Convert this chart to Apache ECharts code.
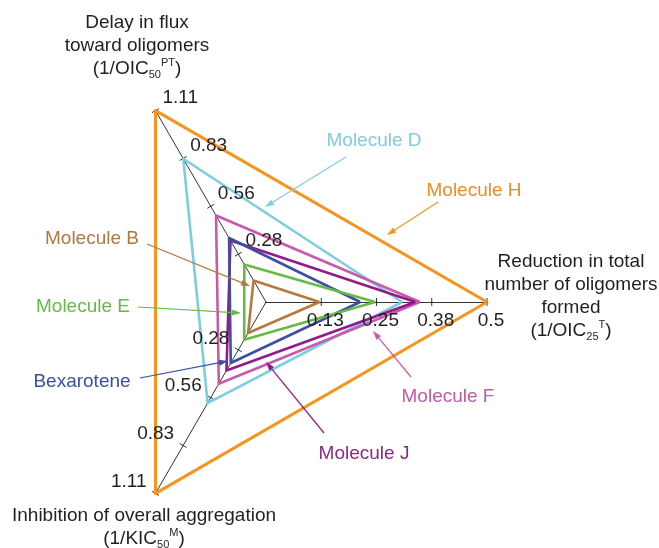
<!DOCTYPE html>
<html><head><meta charset="utf-8">
<script src="https://cdn.jsdelivr.net/npm/echarts@6/dist/echarts.min.js"></script>
<style>html,body{margin:0;padding:0;background:#fff}#c{width:659px;height:548px}</style>
</head><body><div id="c"></div>
<script>
// ---- data ----
const axisNames = ['Reduction in total number of oligomers formed (1/OIC25T)', 'Delay in flux toward oligomers (1/OIC50PT)', 'Inhibition of overall aggregation (1/KIC50M)'];
const axisMax = [0.5, 1.11, 1.11];
const tickLabelsRight = ['0.13', '0.25', '0.38', '0.5'];
const tickLabelsTop = ['0.28', '0.56', '0.83', '1.11'];
const tickLabelsBottom = ['0.28', '0.56', '0.83', '1.11'];
const seriesNames = ['Molecule H', 'Molecule D', 'Molecule F', 'Molecule J', 'Bexarotene', 'Molecule E', 'Molecule B'];
// values in axis order: [reduction, delay, inhibition]
const moleculeH = [0.5, 1.11, 1.11];
const moleculeD = [0.308, 0.831, 0.586];
const moleculeF = [0.348, 0.502, 0.474];
const moleculeJ = [0.338, 0.357, 0.397];
const bexarotene = [0.213, 0.371, 0.354];
const moleculeE = [0.247, 0.218, 0.219];
const moleculeB = [0.121, 0.125, 0.180];
const seriesValues = [moleculeH, moleculeD, moleculeF, moleculeJ, bexarotene, moleculeE, moleculeB];

// ---- styles ----
const colors = ['#F7941E', '#7DCDE0', '#C85AAA', '#931A8C', '#3C4FA2', '#66BB44', '#B5793C'];
const textColors = ['#F08A1E', '#7DCDE0', '#C45AA6', '#8B2A86', '#3C4FA2', '#66BB44', '#B0773E'];
const widths = [3, 2.6, 2.6, 2.6, 2.6, 2.6, 2.6];
const FONT = '"Liberation Sans", Arial, Helvetica, sans-serif';
const FS = 19;

const chart = echarts.init(document.getElementById('c'), null, {renderer: 'canvas'});
const option = {
  animation: false,
  backgroundColor: '#fff',
  radar: {
    center: [266, 302],
    radius: 221,
    startAngle: 0,
    splitNumber: 4,
    shape: 'polygon',
    indicator: axisNames.map((n, i) => ({name: n, min: 0, max: axisMax[i]})),
    axisName: {show: false},
    axisLine: {show: true, lineStyle: {color: '#000', width: 0.8}},
    axisTick: {show: false},
    axisLabel: {show: false},
    splitLine: {show: false},
    splitArea: {show: false}
  },
  series: [{
    type: 'radar',
    symbol: 'none',
    silent: true,
    data: seriesNames.map((n, i) => ({
      name: n,
      value: seriesValues[i],
      lineStyle: {color: colors[i], width: widths[i]},
      itemStyle: {color: colors[i]}
    }))
  }]
};
chart.setOption(option);

// ---- overlays built from the radar's own coordinate system ----
let cs = null;
try { cs = chart.getModel().getComponent('radar', 0).coordinateSystem; } catch (e) { cs = null; }
function pt(v, i) {
  if (cs && cs.dataToPoint) return cs.dataToPoint(v, i);
  const ang = (i * 120) * Math.PI / 180;
  const r = v / axisMax[i] * 221;
  return [266 + r * Math.cos(ang), 302 - r * Math.sin(ang)];
}
const graphics = [];
const tickSets = [tickLabelsRight, tickLabelsTop, tickLabelsBottom];
for (let a = 0; a < 3; a++) {
  const c0 = pt(0, a), c1 = pt(axisMax[a], a);
  const len = Math.hypot(c1[0] - c0[0], c1[1] - c0[1]);
  const ux = (c1[0] - c0[0]) / len, uy = (c1[1] - c0[1]) / len;
  const nx = -uy, ny = ux;
  tickSets[a].forEach((lab, k) => {
    const p = pt(axisMax[a] * (k + 1) / 4, a);
    graphics.push({type: 'line', silent: true, shape: {x1: p[0] - 4 * nx, y1: p[1] - 4 * ny, x2: p[0] + 4 * nx, y2: p[1] + 4 * ny},
      style: {stroke: '#000', lineWidth: 0.8}});
    let tx, ty, al;
    if (a === 0) { tx = p[0] + 4; ty = p[1] + 19; al = 'center'; }
    else if (a === 1) { tx = p[0] + 7; ty = p[1] - 13; al = 'left'; }
    else { tx = p[0] - 9; ty = p[1] - 11.5; al = 'right'; }
    graphics.push({type: 'text', silent: true, x: tx, y: ty, z: 100,
      style: {text: lab, font: FS + 'px ' + FONT, fill: '#231F20', align: al, verticalAlign: 'middle'}});
  });
}

// axis titles (rich text for sub/superscripts)
const richStyles = {
  n: {fontSize: FS, fontFamily: FONT, lineHeight: 23, color: '#231F20'},
  sub: {fontSize: 11, fontFamily: FONT, lineHeight: 21, verticalAlign: 'bottom', color: '#231F20'},
  sup: {fontSize: 11, fontFamily: FONT, lineHeight: 11, verticalAlign: 'top', color: '#231F20'}
};
function title(x, y, lines) {
  graphics.push({type: 'text', silent: true, x: x, y: y, z: 100,
    style: {text: lines.join('\n'), rich: richStyles, align: 'center', verticalAlign: 'top', fill: '#231F20', font: FS + 'px ' + FONT, lineHeight: 23}});
}
title(137, 11, ['{n|Delay in flux}', '{n|toward oligomers}', '{n|(1/OIC}{sub|50}{sup|PT}{n|)}']);
title(571, 250, ['{n|Reduction in total}', '{n|number of oligomers}', '{n|formed}', '{n|(1/OIC}{sub|25}{sup|T}{n|)}']);
title(144, 504, ['{n|Inhibition of overall aggregation}', '{n|(1/KIC}{sub|50}{sup|M}{n|)}']);

// annotations: s = index of the series they point to
const annotations = [
  {s: 1, x: 374, y: 141, from: [346, 157], to: [265, 207]},
  {s: 0, x: 474, y: 191, from: [438, 202], to: [387, 235]},
  {s: 6, x: 92, y: 239, from: [147, 244], to: [250, 286]},
  {s: 5, x: 83, y: 307, from: [138, 307], to: [241, 313]},
  {s: 4, x: 82, y: 382, from: [140, 378], to: [228, 361]},
  {s: 2, x: 448, y: 397, from: [411, 377], to: [373, 331]},
  {s: 3, x: 364, y: 454, from: [324, 433], to: [266, 362]}
];
annotations.forEach((an) => {
  const col = colors[an.s];
  const [x1, y1] = an.from, [x2, y2] = an.to;
  const L = Math.hypot(x2 - x1, y2 - y1);
  const ux = (x2 - x1) / L, uy = (y2 - y1) / L;
  const hl = 9, hw = 3;
  const bx = x2 - ux * hl, by = y2 - uy * hl;
  graphics.push({type: 'line', silent: true, z: 90, shape: {x1: x1, y1: y1, x2: bx + ux * 2, y2: by + uy * 2}, style: {stroke: col, lineWidth: 1.2}});
  graphics.push({type: 'polygon', silent: true, z: 90, shape: {points: [[x2, y2], [bx - uy * hw, by + ux * hw], [bx + uy * hw, by - ux * hw]]}, style: {fill: col}});
  graphics.push({type: 'text', silent: true, x: an.x, y: an.y, z: 100,
    style: {text: seriesNames[an.s], font: FS + 'px ' + FONT, fill: textColors[an.s], align: 'center', verticalAlign: 'middle'}});
});

chart.setOption({graphic: {elements: graphics}});
</script>
</body></html>
